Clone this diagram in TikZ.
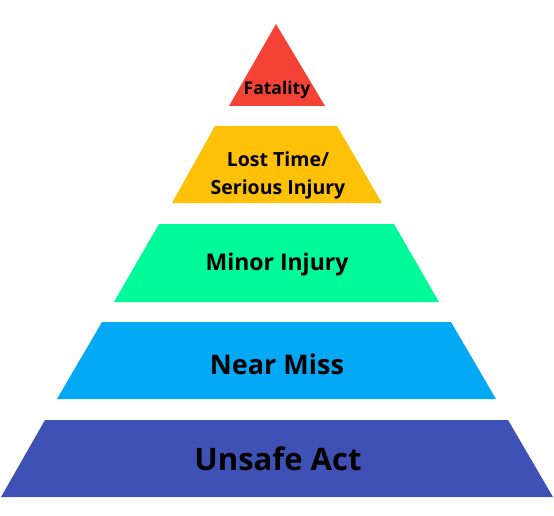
\documentclass[tikz,border=0pt]{standalone}
\usepackage{fontspec}
\setmainfont{Open Sans}
\definecolor{cred}{HTML}{F44336}
\definecolor{camber}{HTML}{FFC107}
\definecolor{cgreen}{HTML}{00FA9A}
\definecolor{cblue}{HTML}{03A9F4}
\definecolor{cindigo}{HTML}{3F51B5}
\tikzset{
  lbl/.style={text=black, align=center, inner sep=0pt},
}
\begin{document}
\begin{tikzpicture}[x=1pt,y=-1pt]
\useasboundingbox (0,0) rectangle (554,516);
\fill[cred]    (276,24) -- (325,106) -- (229,106) -- cycle;
\fill[camber]  (215,126) -- (337,126) -- (382,203) -- (172,203) -- cycle;
\fill[cgreen]  (159,224) -- (394,224) -- (439,302) -- (114,302) -- cycle;
\fill[cblue]   (102,322) -- (451,322) -- (496,399) -- (57,399) -- cycle;
\fill[cindigo] (45,420) -- (508,420) -- (553,497) -- (1,497) -- cycle;
\node[lbl, font=\fontsize{17.5}{20}\selectfont\bfseries] (fat) at (277,90) {Fatality};
\node[lbl, font=\fontsize{19.5}{28}\selectfont\bfseries] (lost) at (278,175) {Lost Time/\\Serious Injury};
\node[lbl, font=\fontsize{23}{26}\selectfont\bfseries] (minor) at (277,265) {Minor Injury};
\node[lbl, font=\fontsize{27}{30}\selectfont\bfseries] (near) at (277,364) {Near Miss};
\node[lbl, font=\fontsize{31}{34}\selectfont\bfseries] (unsafe) at (278,459) {Unsafe Act};
\end{tikzpicture}
\end{document}
